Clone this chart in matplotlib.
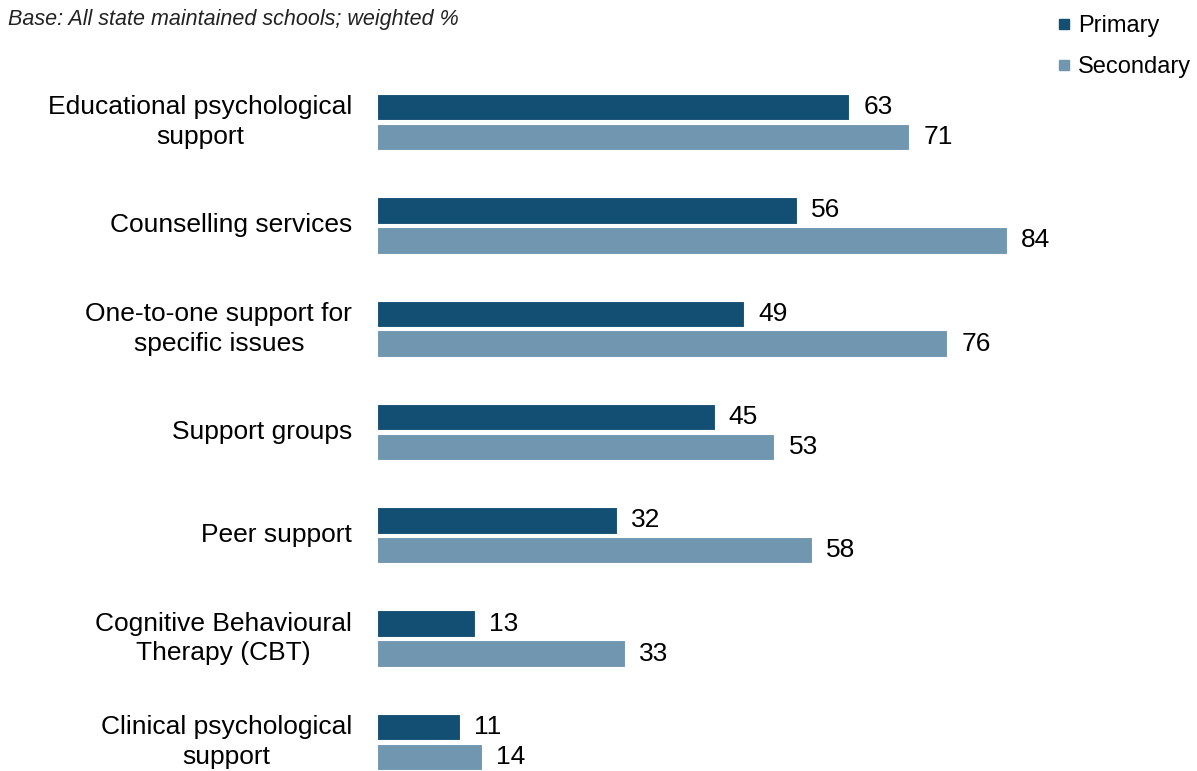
import numpy as np
import matplotlib.pyplot as plt
from matplotlib.lines import Line2D

plt.rcParams['font.family'] = ['Liberation Sans', 'DejaVu Sans']

categories = ['Educational psychological\nsupport', 'Counselling services',
              'One-to-one support for\nspecific issues', 'Support groups',
              'Peer support', 'Cognitive Behavioural\nTherapy (CBT)',
              'Clinical psychological\nsupport']
primary = [63, 56, 49, 45, 32, 13, 11]
secondary = [71, 84, 76, 53, 58, 33, 14]
series_names = ['Primary', 'Secondary']

c_pri = '#124F73'
c_sec = '#7096B0'

fig = plt.figure(figsize=(11.97, 7.71), dpi=100)
ax = fig.add_axes([377 / 1197, 0, 750 / 1197, 1])

y = np.arange(len(categories))
h = 0.255
off = 0.145
ax.barh(y - off, primary, height=h, color=c_pri, edgecolor='white', linewidth=0.8)
ax.barh(y + off, secondary, height=h, color=c_sec, edgecolor='white', linewidth=0.8)

for i in range(len(categories)):
    ax.text(primary[i] + 1.9, y[i] - off, str(primary[i]), va='center', ha='left', fontsize=19)
    ax.text(secondary[i] + 1.9, y[i] + off, str(secondary[i]), va='center', ha='left', fontsize=19)
    ax.text(-3.3, y[i], categories[i], va='center', ha='right', multialignment='center',
            fontsize=19, linespacing=1.3)

ax.set_xlim(0, 100)
ax.set_ylim(6.281, -1.181)
ax.axis('off')

fig.text(8 / 1197, 1 - 19 / 771, 'Base: All state maintained schools; weighted %',
         fontsize=15.5, style='italic', va='center', ha='left', color='#222222')

handles = [Line2D([], [], marker='s', linestyle='none', color=c, markersize=7)
           for c in (c_pri, c_sec)]
fig.legend(handles, series_names, loc='upper left', bbox_to_anchor=(1037 / 1197, 1 + 6 / 771),
           frameon=False, fontsize=17, handlelength=0.5, handletextpad=0.35,
           labelspacing=0.8)

fig.savefig('out.png', dpi=100)
